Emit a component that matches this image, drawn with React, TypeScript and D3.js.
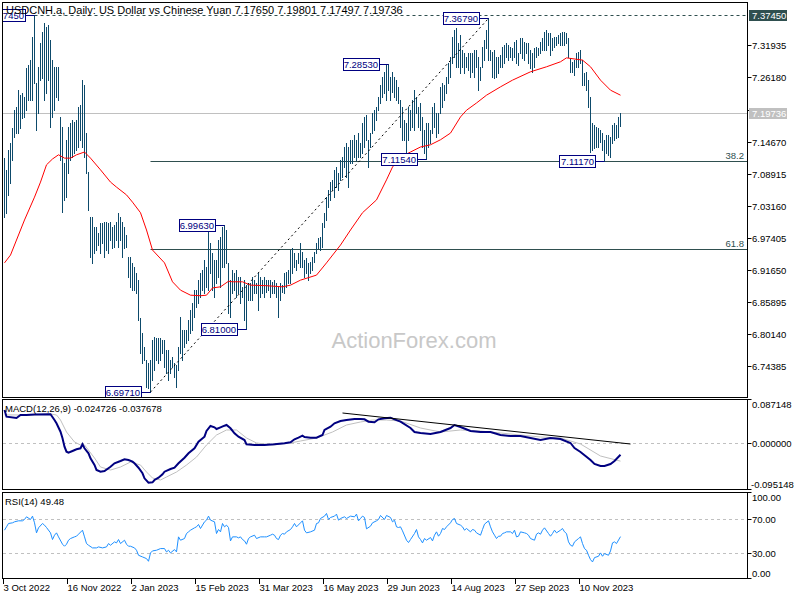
import React from "react";
import * as d3 from "d3";

// ---- price bars (daily highs / lows), bar index 0 = 3 Oct 2022 ----
const highs = [
  7.117, 7.096, 7.132, 7.144, 7.171, 7.203, 7.209, 7.239, 7.230, 7.234,
  7.227, 7.279, 7.284, 7.293, 7.334, 7.3745, 7.252, 7.281, 7.324, 7.343,
  7.360, 7.352, 7.356, 7.329, 7.293, 7.281, 7.281, 7.281, 7.191, 7.173,
  7.108, 7.150, 7.173, 7.180, 7.185, 7.182, 7.185, 7.209, 7.212, 7.257,
  7.248, 7.162, 7.092, 7.011, 7.011, 6.993, 6.993, 6.983, 7.001, 7.001,
  7.002, 7.002, 7.001, 7.002, 6.993, 6.997, 7.002, 7.019, 7.011, 7.002,
  6.993, 6.979, 6.940, 6.940, 6.929, 6.922, 6.911, 6.898, 6.830, 6.803,
  6.778, 6.755, 6.749, 6.755, 6.790, 6.796, 6.794, 6.794, 6.794, 6.790,
  6.790, 6.773, 6.773, 6.755, 6.760, 6.749, 6.746, 6.778, 6.832, 6.808,
  6.808, 6.808, 6.826, 6.844, 6.857, 6.880, 6.880, 6.898, 6.911, 6.916,
  6.934, 6.922, 6.993, 6.965, 6.947, 6.934, 6.934, 6.970, 6.975, 6.993,
  6.9963, 6.988, 6.929, 6.898, 6.916, 6.911, 6.916, 6.904, 6.904, 6.886,
  6.898, 6.889, 6.893, 6.893, 6.904, 6.898, 6.893, 6.911, 6.904, 6.898,
  6.904, 6.898, 6.898, 6.898, 6.895, 6.898, 6.893, 6.886, 6.893, 6.889,
  6.911, 6.913, 6.916, 6.952, 6.956, 6.947, 6.934, 6.947, 6.965, 6.949,
  6.934, 6.938, 6.929, 6.931, 6.940, 6.949, 6.965, 6.974, 6.975, 7.001,
  7.019, 7.047, 7.060, 7.074, 7.078, 7.096, 7.101, 7.090, 7.114, 7.119,
  7.137, 7.144, 7.137, 7.150, 7.150, 7.159, 7.150, 7.162, 7.144, 7.180,
  7.191, 7.194, 7.150, 7.162, 7.198, 7.203, 7.209, 7.227, 7.248, 7.263,
  7.272, 7.284, 7.2853, 7.263, 7.272, 7.263, 7.257, 7.245, 7.221, 7.209,
  7.185, 7.180, 7.209, 7.203, 7.221, 7.239, 7.227, 7.209, 7.216, 7.191,
  7.168, 7.180, 7.180, 7.168, 7.209, 7.216, 7.198, 7.198, 7.245, 7.252,
  7.248, 7.263, 7.288, 7.299, 7.334, 7.347, 7.351, 7.324, 7.338, 7.311,
  7.306, 7.299, 7.306, 7.306, 7.306, 7.311, 7.311, 7.299, 7.281, 7.317,
  7.329, 7.347, 7.3679, 7.311, 7.307, 7.311, 7.299, 7.299, 7.302, 7.317,
  7.320, 7.324, 7.320, 7.317, 7.315, 7.325, 7.329, 7.306, 7.333, 7.333,
  7.325, 7.324, 7.324, 7.311, 7.306, 7.315, 7.317, 7.315, 7.325, 7.333,
  7.343, 7.347, 7.342, 7.342, 7.333, 7.334, 7.334, 7.338, 7.342, 7.343,
  7.343, 7.342, 7.333, 7.297, 7.290, 7.293, 7.306, 7.307, 7.311, 7.293,
  7.270, 7.272, 7.257, 7.227, 7.180, 7.177, 7.173, 7.171, 7.168, 7.162,
  7.150, 7.159, 7.159, 7.155, 7.177, 7.180, 7.177, 7.191, 7.19801,
];
const lows = [
  7.011, 7.019, 7.051, 7.072, 7.114, 7.155, 7.162, 7.162, 7.171, 7.189,
  7.191, 7.203, 7.221, 7.221, 7.221, 7.252, 7.168, 7.198, 7.257, 7.261,
  7.221, 7.234, 7.257, 7.173, 7.191, 7.203, 7.227, 7.221, 7.114, 7.020,
  7.042, 7.047, 7.090, 7.114, 7.119, 7.126, 7.132, 7.137, 7.150, 7.137,
  7.119, 7.090, 7.024, 6.940, 6.929, 6.947, 6.952, 6.961, 6.947, 6.965,
  6.940, 6.952, 6.947, 6.970, 6.956, 6.957, 6.970, 6.957, 6.970, 6.940,
  6.956, 6.957, 6.904, 6.886, 6.880, 6.880, 6.875, 6.826, 6.767, 6.749,
  6.755, 6.706, 6.704, 6.6971, 6.719, 6.737, 6.755, 6.749, 6.755, 6.767,
  6.742, 6.731, 6.719, 6.731, 6.742, 6.724, 6.706, 6.737, 6.767, 6.755,
  6.778, 6.785, 6.790, 6.803, 6.808, 6.832, 6.850, 6.857, 6.868, 6.880,
  6.875, 6.886, 6.880, 6.911, 6.880, 6.868, 6.893, 6.904, 6.886, 6.922,
  6.922, 6.929, 6.839, 6.832, 6.875, 6.880, 6.868, 6.875, 6.857, 6.868,
  6.826, 6.810, 6.862, 6.862, 6.862, 6.875, 6.875, 6.844, 6.868, 6.875,
  6.868, 6.877, 6.880, 6.868, 6.875, 6.875, 6.868, 6.832, 6.862, 6.877,
  6.875, 6.886, 6.893, 6.893, 6.911, 6.922, 6.916, 6.929, 6.922, 6.922,
  6.904, 6.911, 6.898, 6.911, 6.916, 6.931, 6.947, 6.956, 6.952, 6.957,
  6.993, 7.006, 7.029, 7.042, 7.060, 7.047, 7.065, 7.060, 7.078, 7.083,
  7.101, 7.083, 7.065, 7.108, 7.108, 7.119, 7.114, 7.119, 7.119, 7.126,
  7.137, 7.150, 7.101, 7.137, 7.162, 7.168, 7.185, 7.203, 7.216, 7.227,
  7.234, 7.221, 7.239, 7.221, 7.236, 7.227, 7.221, 7.216, 7.173, 7.150,
  7.150, 7.126, 7.150, 7.168, 7.173, 7.168, 7.198, 7.173, 7.168, 7.137,
  7.126, 7.1154, 7.137, 7.144, 7.162, 7.173, 7.155, 7.162, 7.198, 7.209,
  7.221, 7.234, 7.252, 7.263, 7.288, 7.299, 7.281, 7.281, 7.270, 7.281,
  7.270, 7.281, 7.275, 7.263, 7.272, 7.263, 7.281, 7.239, 7.257, 7.281,
  7.293, 7.315, 7.293, 7.293, 7.263, 7.261, 7.263, 7.270, 7.281, 7.281,
  7.288, 7.299, 7.293, 7.299, 7.293, 7.299, 7.288, 7.284, 7.306, 7.297,
  7.293, 7.306, 7.288, 7.279, 7.272, 7.281, 7.299, 7.302, 7.306, 7.311,
  7.311, 7.311, 7.320, 7.302, 7.311, 7.317, 7.320, 7.324, 7.320, 7.320,
  7.320, 7.324, 7.299, 7.272, 7.272, 7.266, 7.281, 7.281, 7.288, 7.248,
  7.248, 7.239, 7.209, 7.128, 7.132, 7.135, 7.137, 7.137, 7.146, 7.132,
  7.1117, 7.126, 7.123, 7.119, 7.144, 7.150, 7.153, 7.155, 7.17497,
];

// moving average (red), sampled [barIndex, price]
const maPoints: [number, number][] = [
  [0, 6.929], [3, 6.943], [6, 6.97], [10, 7.006], [15, 7.047], [18, 7.074], [21, 7.105],
  [24, 7.1155], [27, 7.123], [30, 7.117], [33, 7.117], [36, 7.123], [40, 7.128], [43, 7.117],
  [48, 7.096], [53, 7.074], [56, 7.065], [61, 7.051], [64, 7.038], [68, 7.019], [71, 6.988],
  [74, 6.952], [80, 6.929], [84, 6.895], [88, 6.88], [93, 6.871], [98, 6.87], [101, 6.871],
  [104, 6.884], [108, 6.886], [112, 6.896], [114, 6.895], [119, 6.895], [123, 6.889],
  [131, 6.888], [139, 6.886], [143, 6.889], [148, 6.898], [156, 6.907], [161, 6.929],
  [168, 6.961], [173, 6.988], [179, 7.019], [186, 7.042], [191, 7.078], [194, 7.101],
  [198, 7.119], [203, 7.128], [208, 7.137], [213, 7.141], [218, 7.15], [223, 7.162],
  [228, 7.191], [231, 7.203], [236, 7.216], [241, 7.23], [248, 7.245], [254, 7.257],
  [263, 7.272], [271, 7.281], [278, 7.29], [281, 7.297], [289, 7.293], [293, 7.281],
  [298, 7.257], [303, 7.239], [308, 7.23],
];

// MACD main line, sampled [barIndex, value]
const macdPoints: [number, number][] = [
  [0, 0.0659], [1, 0.0523], [6, 0.0497], [8, 0.0558], [11, 0.0558], [15, 0.057], [23, 0.0572],
  [25, 0.0456], [26, 0.0389], [28, 0.0219], [29, 0.0086], [30, -0.0084], [31, -0.0186],
  [32, -0.0206], [34, -0.0172], [36, -0.0137], [38, -0.0117], [39, -0.0036], [40, -0.0117],
  [42, -0.0218], [43, -0.0319], [45, -0.0455], [46, -0.0556], [48, -0.0591], [50, -0.0577],
  [53, -0.049], [55, -0.0421], [58, -0.0374], [60, -0.034], [62, -0.0354], [64, -0.0388],
  [65, -0.0421], [67, -0.051], [69, -0.0623], [70, -0.0725], [72, -0.0814], [74, -0.0806],
  [75, -0.0759], [77, -0.0712], [79, -0.0643], [80, -0.0591], [83, -0.0536], [85, -0.051],
  [87, -0.0421], [90, -0.0307], [92, -0.0218], [95, -0.0117], [97, 0.0017], [100, 0.0118],
  [101, 0.0234], [103, 0.0335], [105, 0.0308], [106, 0.0274], [108, 0.0308], [110, 0.0341],
  [111, 0.0355], [113, 0.0288], [115, 0.0187], [117, 0.0118], [120, 0.0051], [121, -0.0036],
  [125, -0.005], [130, -0.005], [135, -0.0036], [140, -0.0016], [143, 0.0005], [145, 0.0065],
  [147, 0.0098], [149, 0.0138], [150, 0.0112], [153, 0.0098], [156, 0.0098], [159, 0.0152],
  [160, 0.0254], [163, 0.0321], [165, 0.0389], [168, 0.0436], [171, 0.0456], [175, 0.0477],
  [178, 0.0477], [180, 0.047], [182, 0.0422], [185, 0.041], [187, 0.047], [190, 0.0491],
  [193, 0.0503], [195, 0.047], [198, 0.0422], [203, 0.0294], [205, 0.0213], [208, 0.0193],
  [213, 0.0173], [218, 0.0213], [223, 0.0294], [225, 0.0355], [228, 0.0315], [233, 0.0234],
  [238, 0.0213], [243, 0.0213], [248, 0.0153], [253, 0.0132], [258, 0.0132], [263, 0.0092],
  [268, 0.0051], [273, 0.0092], [278, 0.0072], [283, -0.0009], [285, -0.0111], [288, -0.0191],
  [293, -0.0354], [295, -0.0435], [298, -0.0476], [300, -0.0476], [303, -0.0435],
  [305, -0.0374], [308, -0.024726],
];

// MACD signal line, sampled [barIndex, value]
const signalPoints: [number, number][] = [
  [0, 0.056], [8, 0.0558], [13, 0.0558], [23, 0.0578], [26, 0.0558], [28, 0.0456],
  [31, 0.0213], [35, 0.0011], [38, -0.005], [40, -0.005], [45, -0.0313], [48, -0.0496],
  [53, -0.0557], [58, -0.0496], [63, -0.0395], [68, -0.0456], [71, -0.0597], [74, -0.0719],
  [78, -0.0759], [81, -0.0698], [86, -0.0597], [91, -0.0456], [96, -0.0294], [101, -0.005],
  [106, 0.0152], [111, 0.0254], [116, 0.0254], [121, 0.0092], [126, -0.0009], [134, -0.005],
  [143, -0.0009], [148, 0.0031], [156, 0.0092], [164, 0.0213], [171, 0.0355], [178, 0.0416],
  [184, 0.0456], [191, 0.0456], [198, 0.0436], [208, 0.0294], [218, 0.0213], [228, 0.0254],
  [238, 0.0233], [248, 0.0193], [258, 0.0152], [268, 0.0112], [278, 0.0092], [288, -0.003],
  [298, -0.0273], [308, -0.037678],
];

// RSI(14), sampled [barIndex, value]
const rsiPoints: [number, number][] = [
  [0, 57.2], [1, 61.2], [2, 65.2], [4, 66], [5, 67.2], [7, 68.4], [9, 68.4], [10, 70], [11, 73.2],
  [13, 70], [14, 74], [15, 66], [16, 54], [17, 60], [19, 65.2], [20, 63.2], [21, 60.4], [23, 54],
  [24, 46], [25, 51.2], [26, 54], [27, 49.2], [29, 40.4], [30, 38], [31, 40.4], [32, 45.2],
  [33, 47.2], [35, 49.2], [36, 50], [37, 52.4], [39, 57.2], [40, 49.2], [41, 41.2], [42, 39.2],
  [44, 36], [46, 36], [47, 37.2], [49, 36], [51, 37.2], [52, 41.2], [53, 39.2], [55, 43.2],
  [56, 42], [57, 46], [58, 41.2], [60, 45.2], [61, 40.4], [62, 38], [63, 38], [65, 36],
  [66, 33.2], [67, 27.2], [69, 25.2], [71, 23.2], [72, 20], [73, 30], [74, 32.4], [76, 33.2],
  [78, 35.2], [80, 35.2], [81, 31.2], [82, 33.2], [83, 30], [85, 34], [86, 31.2], [87, 49.2],
  [88, 45.2], [90, 47.2], [91, 53.2], [92, 55.2], [93, 57.2], [95, 60], [96, 61.2], [97, 64],
  [98, 59.2], [100, 67.2], [101, 69.2], [102, 74], [103, 69.2], [105, 67.2], [106, 53.2],
  [107, 58], [108, 55.2], [109, 65.2], [110, 61.2], [111, 63.2], [112, 60.4], [113, 44.4],
  [114, 49.2], [116, 49.2], [117, 48], [118, 49.2], [119, 46], [120, 44.4], [121, 40.4],
  [122, 47.2], [123, 49.2], [125, 51.2], [126, 47.2], [128, 49.2], [130, 49.2], [131, 49.2],
  [133, 51.2], [134, 52.4], [135, 51.2], [136, 47.2], [137, 46], [138, 51.2], [139, 53.2],
  [140, 52.4], [141, 55.2], [143, 58], [144, 61.2], [145, 65.2], [146, 61.2], [148, 66],
  [149, 68.4], [150, 57.2], [151, 54], [153, 55.2], [155, 57.2], [156, 65.2], [157, 66],
  [158, 71.2], [160, 74], [161, 77.2], [162, 70], [163, 72.4], [165, 74], [166, 76.4],
  [167, 69.2], [168, 71.2], [170, 73.2], [171, 71.2], [173, 74], [175, 73.2], [176, 76.4],
  [177, 68.4], [178, 71.2], [179, 74], [180, 72.4], [181, 58.8], [183, 62], [184, 66],
  [186, 68.4], [187, 70], [188, 74.8], [190, 70], [191, 74.8], [193, 72.4], [194, 67.2],
  [195, 69.2], [196, 61.2], [197, 60.4], [198, 61.2], [199, 56.4], [201, 45.2], [202, 42.4],
  [203, 46], [205, 53.2], [206, 58], [207, 49.2], [208, 46], [209, 42], [210, 47.2],
  [211, 45.2], [213, 48.4], [214, 44.4], [215, 51.2], [216, 55.2], [217, 50], [218, 53.2],
  [219, 59.2], [220, 58], [221, 61.2], [223, 66], [224, 70], [225, 71.2], [226, 65.2],
  [228, 63.2], [229, 61.2], [230, 57.2], [231, 59.2], [233, 55.2], [234, 58], [235, 57.2],
  [236, 54], [238, 51.2], [239, 58], [240, 64.4], [242, 68.4], [243, 61.2], [244, 55.2],
  [245, 51.2], [246, 47.2], [247, 50], [248, 50], [249, 53.2], [250, 54], [251, 55.2],
  [253, 55.2], [254, 53.2], [255, 57.2], [256, 49.2], [257, 50], [258, 55.2], [260, 54],
  [261, 53.2], [262, 51.2], [263, 47.2], [265, 45.2], [266, 52.4], [267, 54], [268, 52.4],
  [269, 57.2], [270, 60], [272, 53.2], [273, 50], [274, 53.2], [275, 57.2], [276, 54],
  [278, 57.2], [279, 59.2], [280, 55.2], [281, 53.2], [282, 43.2], [283, 39.2], [284, 38],
  [285, 43.2], [287, 47.2], [288, 49.2], [289, 41.2], [290, 35.2], [291, 33.2], [292, 27.2],
  [293, 22], [294, 19.2], [295, 24.4], [297, 26], [298, 30], [299, 26], [300, 29.2],
  [302, 27.2], [303, 32.4], [304, 42], [305, 43.2], [306, 41.2], [308, 49.48],
];

// pivot annotations
const pivotIdx = [15, 73, 110, 121, 192, 211, 242, 300];
const pivotPrice = [7.3745, 6.6971, 6.9963, 6.81, 7.2853, 7.1154, 7.3679, 7.1117];

// fibonacci retracement anchors and levels
const fibLowIdx = 73;
const fibLow = 6.6971;
const fibHigh = 7.3679;
const fibHighIdx = 242;
const fibLevels = [0.382, 0.618];
const fibNames = ["38.2", "61.8"];

const topLevel = 7.3745;
const lastOHLC = [7.1765, 7.19801, 7.17497, 7.19736];
const mainTicks = [7.31935, 7.2618, 7.20425, 7.1467, 7.08915, 7.0316, 6.97405, 6.9165, 6.85895, 6.8014, 6.74385];
const macdTickLabels = ["0.087148", "0.000000", "-0.095148"];
const rsiTicks = [100, 70, 30, 0];
const macdTrend: [number, number][] = [[169, 0.0598], [313, -0.003]];
const dateIdx = [0, 32, 64, 96, 128, 160, 192, 224, 256, 288];
const dateLabels = ["3 Oct 2022", "16 Nov 2022", "2 Jan 2023", "15 Feb 2023", "31 Mar 2023", "16 May 2023", "29 Jun 2023", "14 Aug 2023", "27 Sep 2023", "10 Nov 2023"];

const FONT = "'Liberation Sans', Arial, sans-serif";
const BAR = "#0d4a6b";
const SLATE = "#2f4f4f";
const NAVY = "#000080";

export default function App() {
  const L = 2.5, R = 747.5;
  const x = d3.scaleLinear().domain([0, 308]).range([4.5, 620.5]);
  const y = d3.scaleLinear().domain([6.6882, 7.3973]).range([397, 2]);
  const ym = d3.scaleLinear().domain([-0.095148, 0.087148]).range([489.5, 399.5]);
  const yr = d3.scaleLinear().domain([0, 100]).range([578, 494.4]);
  const crisp = (v: number) => Math.round(v) + 0.5;

  const maLine = d3.line<[number, number]>().x(d => x(d[0])).y(d => y(d[1]))(maPoints) || "";
  const macdLine = d3.line<[number, number]>().x(d => x(d[0])).y(d => ym(d[1]))(macdPoints) || "";
  const sigLine = d3.line<[number, number]>().x(d => x(d[0])).y(d => ym(d[1]))(signalPoints) || "";
  const rsiLine = d3.line<[number, number]>().x(d => x(d[0])).y(d => yr(d[1]))(rsiPoints) || "";
  const trendM = d3.line<[number, number]>().x(d => x(d[0])).y(d => ym(d[1]))(macdTrend) || "";

  const title = `USDCNH.a, Daily:  US Dollar vs Chinese Yuan  ${lastOHLC.map(v => v.toFixed(5)).join(" ")}`;
  const lastClose = lastOHLC[3];

  return (
    <svg width={800} height={600} style={{ position: "absolute", left: 0, top: 0, background: "#fff" }}
      fontFamily={FONT} fontSize={9.5}>
      <defs>
        <clipPath id="cMain"><rect x={3} y={3} width={744} height={394} /></clipPath>
        <clipPath id="cMacd"><rect x={3} y={400} width={744} height={89} /></clipPath>
        <clipPath id="cRsi"><rect x={3} y={493} width={744} height={85} /></clipPath>
      </defs>
      <rect x={0} y={0} width={800} height={600} fill="#fff" />

      {/* ---------- main panel ---------- */}
      <g clipPath="url(#cMain)">
        <text x={414} y={348} textAnchor="middle" fontSize={22} fill="#c8c8c8">ActionForex.com</text>
        <line x1={3} x2={R} y1={crisp(y(lastClose))} y2={crisp(y(lastClose))} stroke="#c0c0c0" />
        {fibLevels.map((lv, k) => {
          const p = fibHigh - lv * (fibHigh - fibLow);
          const yy = crisp(y(p));
          return (
            <g key={k}>
              <line x1={x(fibLowIdx)} x2={R} y1={yy} y2={yy} stroke={SLATE} />
              <text x={744} y={yy - 3} textAnchor="end" fill={SLATE}>{fibNames[k]}</text>
            </g>
          );
        })}
        <line x1={x(pivotIdx[0])} x2={R} y1={crisp(y(topLevel))} y2={crisp(y(topLevel))} stroke={SLATE} strokeDasharray="3,3" />
        <g stroke={BAR} strokeWidth={1} shapeRendering="crispEdges">
          {highs.map((h, i) => (
            <line key={i} x1={x(i)} x2={x(i)} y1={Math.round(y(h))} y2={Math.round(y(lows[i])) + 1} />
          ))}
        </g>
        <path d={maLine} fill="none" stroke="#ff0000" strokeWidth={1} />
        <line x1={x(fibLowIdx)} y1={y(fibLow)} x2={x(fibHighIdx)} y2={y(fibHigh)} stroke="#000" strokeDasharray="2,3" />
        {pivotIdx.map((pi, k) => {
          const bx = x(pi);
          const by = crisp(y(pivotPrice[k]));
          const right = Math.round(bx - 10) + 0.5;
          return (
            <g key={k}>
              <line x1={right} x2={bx} y1={by} y2={by} stroke={NAVY} />
              <rect x={right - 36} y={by - 6} width={36} height={12} fill="#fff" stroke={NAVY} />
              <text x={right - 1.5} y={by + 3.5} textAnchor="end" fill={NAVY}>{pivotPrice[k].toFixed(5)}</text>
            </g>
          );
        })}
        <text x={6} y={13.5} fill="#000" fontSize={11}>{title}</text>
      </g>
      <rect x={L} y={2.5} width={R - L} height={395} fill="none" stroke="#000" />

      {/* main axis */}
      {mainTicks.map((t, k) => {
        const yy = crisp(y(t));
        return (
          <g key={k}>
            <line x1={R} x2={R + 4} y1={yy} y2={yy} stroke="#000" />
            <text x={752} y={yy + 3.5} fill="#000">{t.toFixed(5)}</text>
          </g>
        );
      })}
      <rect x={749} y={crisp(y(topLevel)) - 5.5} width={38} height={11} fill={SLATE} />
      <text x={752} y={crisp(y(topLevel)) + 3.5} fill="#fff">{topLevel.toFixed(5)}</text>
      <rect x={749} y={crisp(y(lastClose)) - 5.5} width={38} height={11} fill="#c0c0c0" />
      <text x={752} y={crisp(y(lastClose)) + 3.5} fill="#fff">{lastClose.toFixed(5)}</text>

      {/* ---------- MACD panel ---------- */}
      <g clipPath="url(#cMacd)">
        <line x1={3} x2={R} y1={crisp(ym(0))} y2={crisp(ym(0))} stroke="#c0c0c0" strokeDasharray="3,3" />
        <path d={sigLine} fill="none" stroke="#c0c0c0" strokeWidth={1} />
        <path d={macdLine} fill="none" stroke={NAVY} strokeWidth={2} />
        <path d={trendM} fill="none" stroke="#000" strokeWidth={1} />
        <text x={5} y={412} fill="#000">{`MACD(12,26,9) ${macdPoints[macdPoints.length - 1][1].toFixed(6)} ${signalPoints[signalPoints.length - 1][1].toFixed(6)}`}</text>
      </g>
      <rect x={L} y={399.5} width={R - L} height={90} fill="none" stroke="#000" />
      <line x1={R} x2={R + 4} y1={399.5} y2={399.5} stroke="#000" />
      <line x1={R} x2={R + 4} y1={crisp(ym(0))} y2={crisp(ym(0))} stroke="#000" />
      <line x1={R} x2={R + 4} y1={489.5} y2={489.5} stroke="#000" />
      <text x={752} y={408} fill="#000">{macdTickLabels[0]}</text>
      <text x={752} y={crisp(ym(0)) + 3.5} fill="#000">{macdTickLabels[1]}</text>
      <text x={751} y={488} fill="#000">{macdTickLabels[2]}</text>

      {/* ---------- RSI panel ---------- */}
      <g clipPath="url(#cRsi)">
        {[70, 30].map(v => (
          <line key={v} x1={3} x2={R} y1={crisp(yr(v))} y2={crisp(yr(v))} stroke="#c0c0c0" strokeDasharray="3,3" />
        ))}
        <path d={rsiLine} fill="none" stroke="#1e90ff" strokeWidth={1} />
        <text x={5} y={505} fill="#000">{`RSI(14) ${rsiPoints[rsiPoints.length - 1][1].toFixed(2)}`}</text>
      </g>
      <rect x={L} y={492.5} width={R - L} height={86} fill="none" stroke="#000" />
      {rsiTicks.map((t, k) => {
        const yy = k === 0 ? 492.5 : k === 3 ? 578.5 : crisp(yr(t));
        const ty = k === 0 ? 501 : k === 3 ? 577 : yy + 3.5;
        return (
          <g key={t}>
            <line x1={R} x2={R + 4} y1={yy} y2={yy} stroke="#000" />
            <text x={752} y={ty} fill="#000">{t.toFixed(2)}</text>
          </g>
        );
      })}

      {/* ---------- date axis ---------- */}
      {dateIdx.map((di, k) => {
        const tx = Math.round(x(di) - 2) + 0.5;
        return (
          <g key={k}>
            <line x1={tx} x2={tx} y1={578.5} y2={584} stroke="#000" />
            <text x={tx} y={591} fill="#000">{dateLabels[k]}</text>
          </g>
        );
      })}
    </svg>
  );
}
